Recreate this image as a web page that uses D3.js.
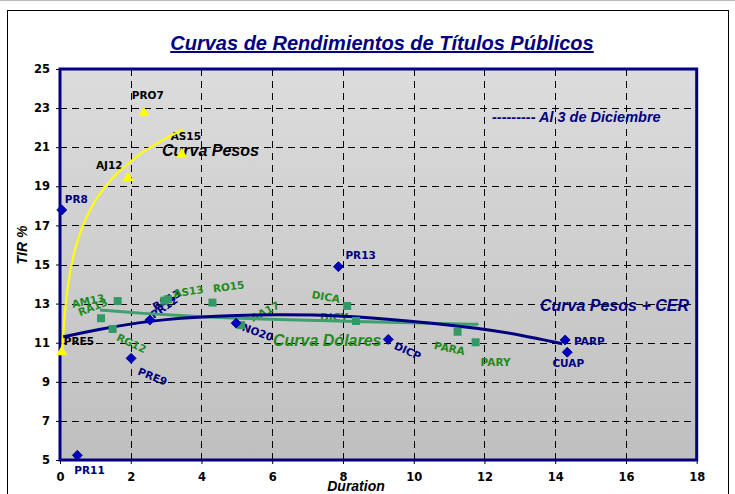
<!DOCTYPE html>
<html>
<head>
<meta charset="utf-8">
<script src="https://cdn.jsdelivr.net/npm/d3@7"></script>
<style>
  body { margin: 0; background: #fff; }
  text { font-family: "DejaVu Sans", Verdana, sans-serif; }
  .ital { font-family: "Liberation Sans", Arial, sans-serif; font-weight: bold; font-style: italic; }
</style>
</head>
<body>
<div id="chart"></div>
<script>
// ticks
var xTicks = [0, 2, 4, 6, 8, 10, 12, 14, 16, 18]
var yTicks = [5, 7, 9, 11, 13, 15, 17, 19, 21, 23, 25]

// Curva Pesos (yellow)
var pesosNames = ["PRE5", "AJ12", "PRO7", "AS15"]
var pesosDur = [0.05, 1.92, 2.37, 3.44]
var pesosTir = [10.52, 19.42, 22.75, 20.64]
var pesosTrendDur = [0.06, 0.12, 0.24, 0.45, 0.77, 1.2, 1.84, 2.6, 3.47]
var pesosTrendTir = [10.5, 12.3, 14.3, 16.1, 17.6, 18.9, 20.1, 21.1, 21.9]

// Curva Pesos + CER (blue)
var cerNames = ["PR8", "PR11", "PRE9", "PR12", "NO20", "PR13", "DICP", "PARP", "CUAP"]
var cerDur = [0.05, 0.49, 2.01, 2.54, 4.98, 7.87, 9.28, 14.28, 14.34]
var cerTir = [17.79, 5.24, 10.2, 12.16, 12.0, 14.89, 11.17, 11.14, 10.51]
var cerTrendDur = [0.09, 1, 2.54, 4.5, 6, 8, 10, 11.9, 13, 14.2]
var cerTrendTir = [11.3, 11.65, 12.15, 12.37, 12.45, 12.4, 12.1, 11.74, 11.4, 10.95]

// Curva Dolares (green)
var dolNames = ["RA13", "RG12", "AM13", "RS13", "AS13", "RO15", "AA17", "DICA", "DICY", "PARA", "PARY"]
var dolDur = [1.16, 1.49, 1.63, 2.95, 3.05, 4.31, 5.12, 8.12, 8.37, 11.24, 11.75]
var dolTir = [12.25, 11.7, 13.13, 13.15, 13.22, 13.05, 11.9, 12.88, 12.11, 11.56, 11.02]
var dolTrendDur = [1.13, 2.26, 3.96, 6.03, 7.63, 10.46, 11.83]
var dolTrendTir = [12.67, 12.5, 12.33, 12.18, 12.12, 11.99, 11.94]

// label placement: dx, dy, rotation, anchor
var labelPos = {
  PRE5: [2, -7, 0], AJ12: [-32, -9, 0], PRO7: [-12, -14, 0], AS15: [-11, -14, 0],
  PR8: [3, -7, 0], PR11: [-3, 19, 0], PRE9: [6, 16, 22], PR12: [4, -1, -35],
  NO20: [5, 7, 20], PR13: [7, -8, 0], DICP: [5, 9, 25], PARP: [9, 5, 0], CUAP: [1, 15, 0, "middle"],
  RA13: [-21, -2, -22], RG12: [3, 11, 25], AM13: [-45, 7, -12], RS13: [-9, 10, -30],
  AS13: [6, -2, -8], RO15: [1, -10, -8], AA17: [12, -3, -28], DICA: [-36, -8, 10],
  DICY: [-36, 0, 0], PARA: [-24, 17, 12], PARY: [5, 24, 0]
}

var width = 735,
  height = 494;

var navy = "#000080",
  green = "#1d8c1d",
  sqGreen = "#339966";

var svg = d3.select("#chart").append("svg")
  .attr("width", width)
  .attr("height", height);

var defs = svg.append("defs");
var grad = defs.append("linearGradient").attr("id", "bg")
  .attr("x1", 0).attr("y1", 0).attr("x2", 0).attr("y2", 1);
grad.append("stop").attr("offset", "0%").attr("stop-color", "#dcdcdc");
grad.append("stop").attr("offset", "100%").attr("stop-color", "#bfbfbf");

var x = d3.scaleLinear().domain([0, 18]).range([60, 696.7]);
var y = d3.scaleLinear().domain([5, 25]).range([460, 69]);

defs.append("clipPath").attr("id", "clip").append("rect")
  .attr("x", x(0)).attr("y", y(25)).attr("width", x(18) - x(0)).attr("height", y(5) - y(25));

// outer frame
svg.append("line").attr("x1", 0).attr("x2", width).attr("y1", 0.5).attr("y2", 0.5)
  .attr("stroke", "#bbb");
svg.append("rect").attr("x", 7.5).attr("y", 10.5).attr("width", 721).attr("height", 500)
  .attr("fill", "#fff").attr("stroke", "#000").attr("stroke-width", 1);

// title
svg.append("text").attr("class", "ital")
  .attr("x", 382).attr("y", 50)
  .attr("text-anchor", "middle")
  .style("font-size", "20px")
  .style("text-decoration", "underline")
  .attr("fill", navy)
  .text("Curvas de Rendimientos de Títulos Públicos");

// plot background
svg.append("rect")
  .attr("x", x(0)).attr("y", y(25))
  .attr("width", x(18) - x(0)).attr("height", y(5) - y(25))
  .attr("fill", "url(#bg)");

// grid
var grid = svg.append("g").attr("stroke", "#000").attr("stroke-width", 1).attr("stroke-dasharray", "7,5");
grid.selectAll("line.v").data(xTicks.slice(1, -1)).enter().append("line")
  .attr("x1", d => Math.round(x(d)) + 0.5).attr("x2", d => Math.round(x(d)) + 0.5)
  .attr("y1", y(25)).attr("y2", y(5));
grid.selectAll("line.h").data(yTicks.slice(1, -1)).enter().append("line")
  .attr("y1", d => Math.round(y(d)) + 0.5).attr("y2", d => Math.round(y(d)) + 0.5)
  .attr("x1", x(0)).attr("x2", x(18));

// axes
var xAxis = svg.append("g").attr("transform", "translate(0," + y(5) + ")")
  .call(d3.axisBottom(x).tickValues(xTicks).tickSize(4).tickPadding(9));
var yAxis = svg.append("g").attr("transform", "translate(" + x(0) + ",0)")
  .call(d3.axisLeft(y).tickValues(yTicks).tickSize(4).tickPadding(6));
[xAxis, yAxis].forEach(function(a) {
  a.select(".domain").remove();
  a.selectAll("line").attr("stroke", "#000");
  a.selectAll("text")
    .style("font-family", "'DejaVu Sans', Verdana, sans-serif")
    .style("font-weight", "bold")
    .style("font-size", "11.5px")
    .attr("fill", "#000");
});

// plot frame
svg.append("rect")
  .attr("x", x(0)).attr("y", y(25))
  .attr("width", x(18) - x(0)).attr("height", y(5) - y(25))
  .attr("fill", "none").attr("stroke", navy).attr("stroke-width", 3);

// axis titles
svg.append("text").attr("class", "ital")
  .attr("transform", "translate(27,245) rotate(-90)")
  .attr("text-anchor", "middle")
  .style("font-size", "14px")
  .text("TIR %");
svg.append("text").attr("class", "ital")
  .attr("x", 356).attr("y", 491)
  .attr("text-anchor", "middle")
  .style("font-size", "14px")
  .text("Duration");

// annotations
svg.append("text").attr("class", "ital").attr("x", 492).attr("y", 122)
  .style("font-size", "14.5px").attr("fill", navy).text("--------- Al 3 de Diciembre");
svg.append("text").attr("class", "ital").attr("x", 162).attr("y", 156)
  .style("font-size", "16px").attr("fill", "#000").text("Curva Pesos");
svg.append("text").attr("class", "ital").attr("x", 540).attr("y", 311)
  .style("font-size", "16px").attr("fill", navy).text("Curva Pesos + CER");
svg.append("text").attr("class", "ital").attr("x", 273).attr("y", 346)
  .style("font-size", "16px").attr("fill", green).text("Curva Dólares");

function series(names, dur, tir) {
  return names.map(function(n, i) { return {name: n, x: dur[i], y: tir[i]}; });
}
var pesos = series(pesosNames, pesosDur, pesosTir);
var cer = series(cerNames, cerDur, cerTir);
var dol = series(dolNames, dolDur, dolTir);

// point labels
function labels(data, color) {
  svg.append("g").selectAll("text").data(data).enter().append("text")
    .attr("transform", function(d) {
      var p = labelPos[d.name];
      return "translate(" + (x(d.x) + p[0]) + "," + (y(d.y) + p[1]) + ") rotate(" + p[2] + ")";
    })
    .attr("text-anchor", d => labelPos[d.name][3] || "start")
    .style("font-size", "10.5px")
    .style("font-weight", "bold")
    .attr("fill", d => d.name == "RS13" ? navy : color)
    .text(d => d.name);
}
labels(pesos, "#000");
labels(dol, green);
labels(cer, navy);

// trend lines
var line = d3.line().x(d => x(d[0])).y(d => y(d[1])).curve(d3.curveBasis);
var plot = svg.append("g").attr("clip-path", "url(#clip)");
plot.append("path").datum(d3.zip(pesosTrendDur, pesosTrendTir))
  .attr("d", line).attr("fill", "none").attr("stroke", "#ffff00").attr("stroke-width", 2.2);
plot.append("path").datum(d3.zip(dolTrendDur, dolTrendTir))
  .attr("d", line).attr("fill", "none").attr("stroke", "#3f9f6f").attr("stroke-width", 3);
plot.append("path").datum(d3.zip(cerTrendDur, cerTrendTir))
  .attr("d", line).attr("fill", "none").attr("stroke", navy).attr("stroke-width", 3);

// markers
svg.append("g").selectAll("path").data(pesos).enter().append("path")
  .attr("d", d3.symbol(d3.symbolTriangle, 55))
  .attr("transform", d => "translate(" + x(d.x) + "," + y(d.y) + ")")
  .attr("fill", "#ffff00");
svg.append("g").selectAll("path").data(dol).enter().append("path")
  .attr("d", d3.symbol(d3.symbolSquare, 64))
  .attr("transform", d => "translate(" + x(d.x) + "," + y(d.y) + ")")
  .attr("fill", sqGreen);
svg.append("g").selectAll("path").data(cer).enter().append("path")
  .attr("d", d3.symbol(d3.symbolSquare, 50))
  .attr("transform", d => "translate(" + x(d.x) + "," + y(d.y) + ") rotate(45)")
  .attr("fill", "#0000c0").attr("stroke", navy).attr("stroke-width", 0.8);
</script>
</body>
</html>
